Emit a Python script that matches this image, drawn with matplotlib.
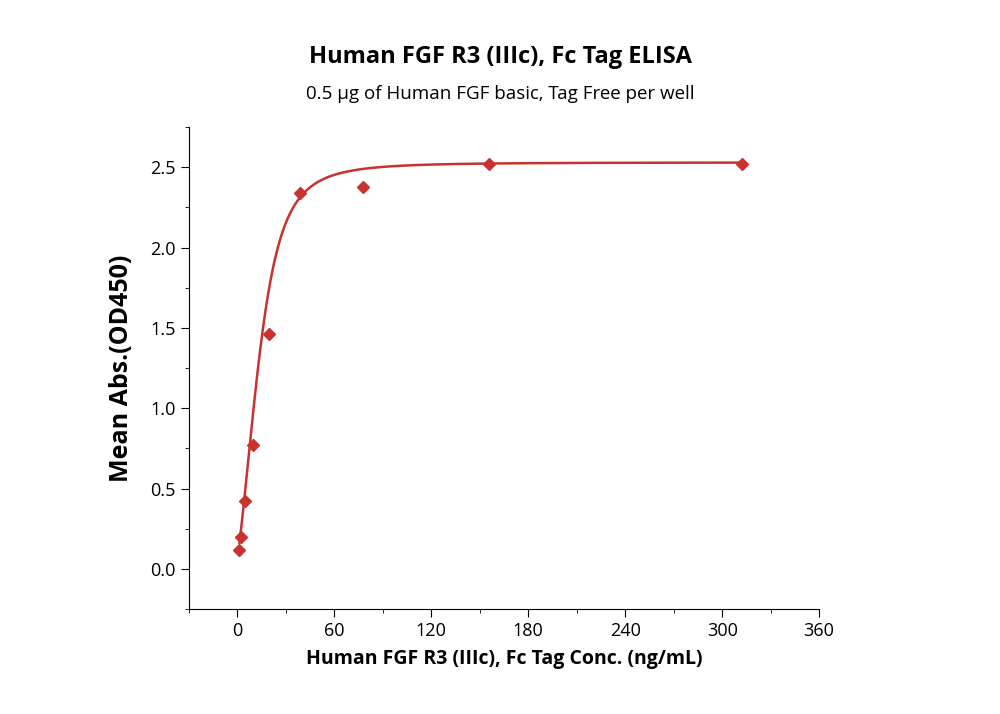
import numpy as np
import matplotlib
matplotlib.use("Agg")
import matplotlib.pyplot as plt
from matplotlib.ticker import MultipleLocator

plt.rcParams["font.family"] = "Open Sans"

# measured points
conc = [1.22, 2.44, 4.88, 9.77, 19.5, 39.0, 78.0, 156.0, 312.5]
od450 = [0.12, 0.20, 0.42, 0.77, 1.46, 2.34, 2.38, 2.52, 2.52]

# 5PL fit parameters (estimated from the curve)
BOTTOM, TOP, EC50, HILL, ASYM = 0.08, 2.53, 22.0, 2.6, 0.45

C_RED = "#c8322f"

fig = plt.figure(figsize=(10, 7.14), dpi=100)
ax = fig.add_axes([0.189, 0.147, 0.63, 0.675])

xs = np.linspace(1.22, 312.5, 800)
ys = BOTTOM + (TOP - BOTTOM) / (1 + (EC50 / xs) ** HILL) ** ASYM
ax.plot(xs, ys, color=C_RED, lw=1.8, zorder=2)
ax.plot(conc, od450, ls="none", marker="D", ms=6, color=C_RED, zorder=3)

ax.set_xlim(-30, 360)
ax.set_ylim(-0.25, 2.75)
ax.xaxis.set_major_locator(MultipleLocator(60))
ax.xaxis.set_minor_locator(MultipleLocator(30))
ax.yaxis.set_major_locator(MultipleLocator(0.5))
ax.yaxis.set_minor_locator(MultipleLocator(0.25))
ax.yaxis.set_major_formatter(plt.FuncFormatter(lambda v, p: f"{v:.1f}"))
for s in ("top", "right"):
    ax.spines[s].set_visible(False)
ax.tick_params(which="major", direction="out", length=6, labelsize=13)
ax.tick_params(which="minor", direction="out", length=3)

ax.set_xlabel("Human FGF R3 (IIIc), Fc Tag Conc. (ng/mL)", fontsize=14,
              fontweight="bold", labelpad=6)
ax.set_ylabel("Mean Abs.(OD450)", fontsize=18, fontweight="bold", labelpad=12)

fig.text(0.5, 0.912, "Human FGF R3 (IIIc), Fc Tag ELISA", ha="center",
         fontsize=17, fontweight="bold")
fig.text(0.5, 0.862, "0.5 \u00b5g of Human FGF basic, Tag Free per well",
         ha="center", fontsize=13.5)

fig.savefig("out.png", dpi=100)
